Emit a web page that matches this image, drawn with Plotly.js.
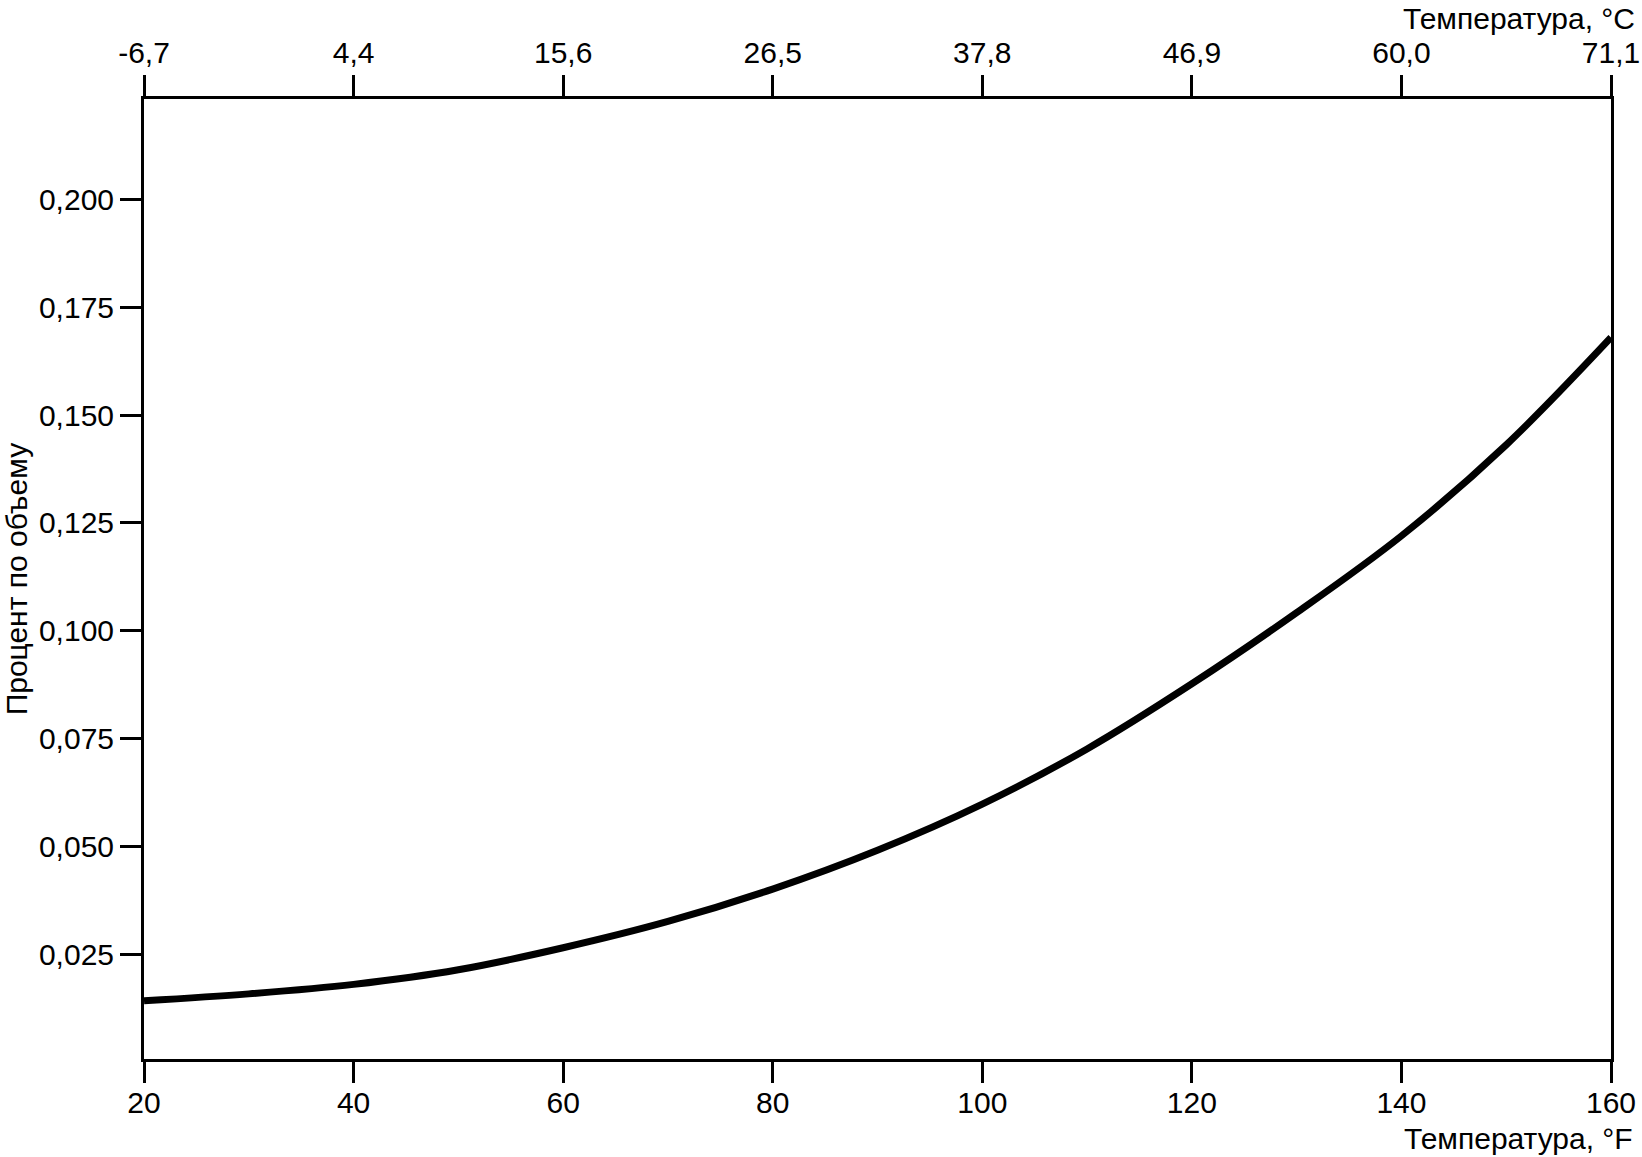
<!DOCTYPE html>
<html>
<head>
<meta charset="utf-8">
<script src="https://cdn.plot.ly/plotly-3.0.1.min.js"></script>
<style>
  html, body { margin: 0; padding: 0; background: #fff; }
  #chart { width: 1642px; height: 1157px; }
</style>
</head>
<body>
<div id="chart"></div>
<script>
// Temperature, °F
const tempF = [20, 30, 40, 50, 60, 70, 80, 90, 100, 110, 120, 130, 140, 150, 160];
// Percent by volume
const percentVol = [0.0142, 0.0158, 0.0180, 0.0214, 0.0265, 0.0326, 0.0401, 0.0491, 0.0598, 0.0726, 0.0877, 0.1042, 0.1220, 0.1431, 0.1680];

const bottomTicks = [20, 40, 60, 80, 100, 120, 140, 160];
const bottomTickText = ["20", "40", "60", "80", "100", "120", "140", "160"];
const topTickText = ["-6,7", "4,4", "15,6", "26,5", "37,8", "46,9", "60,0", "71,1"];
const yTicks = [0.025, 0.050, 0.075, 0.100, 0.125, 0.150, 0.175, 0.200];
const yTickText = ["0,025", "0,050", "0,075", "0,100", "0,125", "0,150", "0,175", "0,200"];

const FONT = "Liberation Sans, Arial, Helvetica, sans-serif";
const FS = 30;

const traces = [
  {
    x: tempF, y: percentVol, type: "scatter", mode: "lines",
    line: { color: "#000", width: 7, shape: "spline", smoothing: 1 },
    xaxis: "x", yaxis: "y", hoverinfo: "skip", showlegend: false
  },
  {
    x: [bottomTicks[0], bottomTicks[bottomTicks.length - 1]], y: [null, null],
    type: "scatter", mode: "lines", xaxis: "x2", yaxis: "y", showlegend: false, hoverinfo: "skip"
  }
];

const axisCommon = {
  showgrid: false, zeroline: false, showline: true, linecolor: "#000", linewidth: 3,
  ticks: "outside", ticklen: 21, tickwidth: 3, tickcolor: "#000",
  tickfont: { family: FONT, size: FS, color: "#000" }
};

const layout = {
  width: 1642, height: 1157,
  margin: { l: 144, r: 31, t: 99, b: 98, pad: 0 },
  paper_bgcolor: "#fff", plot_bgcolor: "#fff",
  showlegend: false,
  font: { family: FONT, size: FS, color: "#000" },
  xaxis: Object.assign({}, axisCommon, {
    range: [20, 160], tickmode: "array", tickvals: bottomTicks, ticktext: bottomTickText,
    side: "bottom", fixedrange: true, ticklabelstandoff: -6
  }),
  xaxis2: Object.assign({}, axisCommon, {
    range: [20, 160], tickmode: "array", tickvals: bottomTicks, ticktext: topTickText,
    side: "top", overlaying: "x", fixedrange: true
  }),
  yaxis: Object.assign({}, axisCommon, {
    range: [0.0007, 0.2233], tickmode: "array", tickvals: yTicks, ticktext: yTickText,
    mirror: true, fixedrange: true
  }),
  annotations: [
    {
      text: "Температура, °F", xref: "paper", yref: "paper",
      x: 1.0167, y: -0.0830, xanchor: "right", yanchor: "middle",
      showarrow: false, font: { family: FONT, size: FS, color: "#000" }
    },
    {
      text: "Температура, °C", xref: "paper", yref: "paper",
      x: 1.0180, y: 1.1030, xanchor: "right", yanchor: "top",
      showarrow: false, font: { family: FONT, size: FS, color: "#000" }
    },
    {
      text: "Процент по объему", xref: "paper", yref: "paper",
      x: -0.0870, y: 0.5, xanchor: "center", yanchor: "middle", textangle: -90,
      showarrow: false, font: { family: FONT, size: FS, color: "#000" }
    }
  ]
};

Plotly.newPlot("chart", traces, layout, { staticPlot: true, displayModeBar: false });
</script>
</body>
</html>
